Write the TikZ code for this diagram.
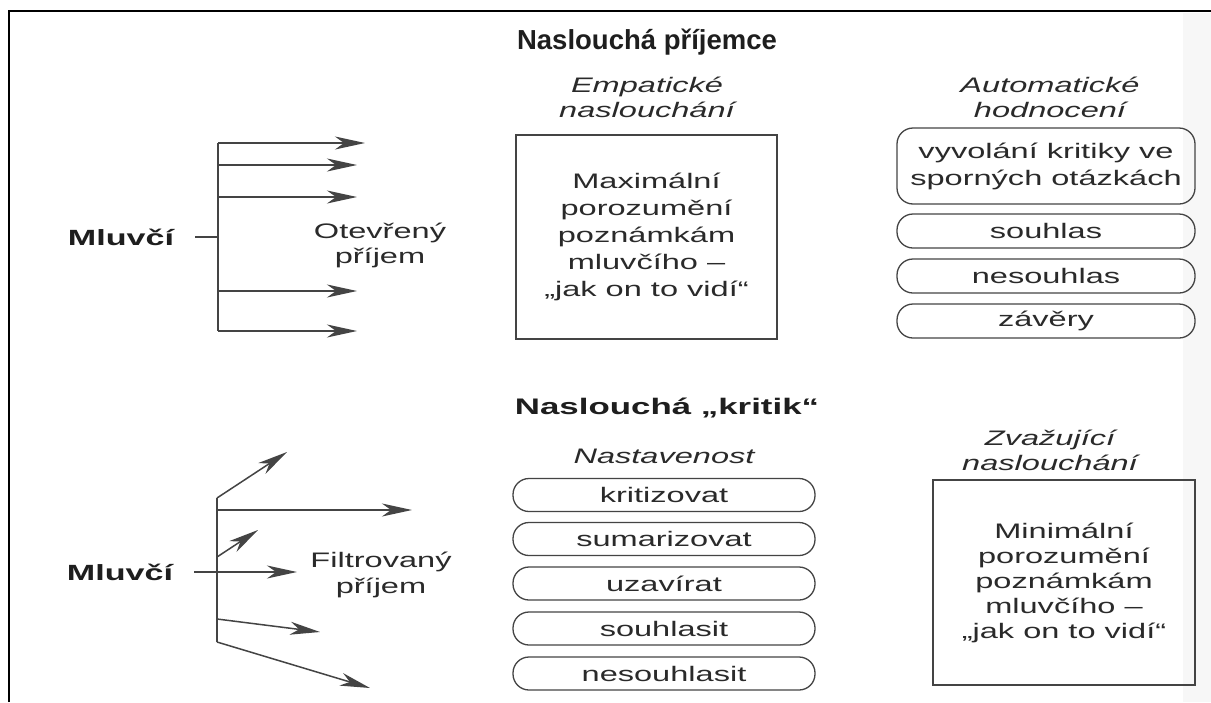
\documentclass[tikz,border=0pt]{standalone}
\usepackage{fontspec}
\setmainfont{Liberation Sans}[FakeStretch=1.55]
\newfontfamily\plainsans{Liberation Sans}
\usetikzlibrary{arrows.meta}
\definecolor{ink}{HTML}{2A2A2A}
\definecolor{inkb}{HTML}{1E1E1E}
\definecolor{lnc}{HTML}{444444}
\begin{document}
\begin{tikzpicture}[x=1pt,y=-1pt,
  txt/.style={text=ink, align=center, inner sep=0pt, font=\fontsize{21}{27}\selectfont},
  txtb/.style={text=ink, align=center, inner sep=0pt, font=\fontsize{21}{25}\selectfont},
  ital/.style={text=ink, align=center, inner sep=0pt, font=\fontsize{21}{25}\selectfont\itshape},
  bold/.style={text=inkb, align=center, inner sep=0pt, font=\fontsize{22}{26}\selectfont\bfseries},
  pill/.style={draw=lnc, line width=1.3pt, rounded corners=16pt, minimum width=302pt, minimum height=33pt, inner sep=0pt, txt},
  pillr/.style={pill, minimum width=298pt, minimum height=34pt},
  sqbox/.style={draw=lnc, line width=1.3pt, inner sep=0pt},
  ln/.style={draw=lnc, line width=1.5pt},
  arr/.style={ln, -{Stealth[length=30pt,width=13pt,inset=9pt]}}
]
\useasboundingbox (0,0) rectangle (1211,702);
\fill[white] (0,0) rectangle (1211,702);
\fill[black!3] (1183,13) rectangle (1211,702);
% frame
\draw[line width=2.2pt, black] (9,702) -- (9,11) -- (1211,11);

% ---------- top section ----------
\node[bold, font=\plainsans\fontsize{27.5}{30}\selectfont\bfseries] (t1) at (647,42) {Naslouchá příjemce};
\node[ital] (emp) at (647,97) {Empatické\\naslouchání};
\node[ital] (aut) at (1050,97) {Automatické\\hodnocení};

\node[sqbox, txt, minimum width=261pt, minimum height=204pt] (ebox) at (646.5,237)
  {Maximální\\porozumění\\poznámkám\\mluvčího –\\„jak on to vidí“};

\node[pillr, minimum height=76pt, rounded corners=16pt] (r1) at (1046,166) {vyvolání kritiky ve\\sporných otázkách};
\node[pillr] (r2) at (1046,231) {souhlas};
\node[pillr] (r3) at (1046,276) {nesouhlas};
\node[pillr] (r4) at (1046,321) {závěry};

\node[bold] (m1) at (121,237) {Mluvčí};
\node[txt, font=\fontsize{21}{25}\selectfont] (ot) at (380,245) {Otevřený\\příjem};
\coordinate (j1) at (218,237);
\coordinate (v1) at (218,143);
\coordinate (v2) at (218,165);
\coordinate (v3) at (218,197);
\coordinate (v4) at (218,291);
\coordinate (v5) at (218,331);
\coordinate (e1) at (365,143);
\coordinate (e2) at (357,165);
\coordinate (e3) at (357,197);
\coordinate (e4) at (357,291);
\coordinate (e5) at (357,331);
\draw[ln] ([xshift=21pt]m1.east) -- (j1);
\draw[ln] (v1) -- (v5);
\draw[arr] (v1) -- (e1);
\draw[arr] (v2) -- (e2);
\draw[arr] (v3) -- (e3);
\draw[arr] (v4) -- (e4);
\draw[arr] (v5) -- (e5);

% ---------- bottom section ----------
\node[bold, font=\fontsize{22.5}{26}\selectfont\bfseries] (t2) at (667,408) {Naslouchá „kritik“};
\node[ital] (nas) at (664,456) {Nastavenost};
\node[ital] (zva) at (1050,450) {Zvažující\\naslouchání};

\node[pill] (b1) at (664,495) {kritizovat};
\node[pill] (b2) at (664,539) {sumarizovat};
\node[pill] (b3) at (664,583.5) {uzavírat};
\node[pill] (b4) at (664,628.5) {souhlasit};
\node[pill] (b5) at (664,673.5) {nesouhlasit};

\node[sqbox, txtb, minimum width=262pt, minimum height=205pt] (zbox) at (1064,582.5)
  {Minimální\\porozumění\\poznámkám\\mluvčího –\\„jak on to vidí“};

\node[bold] (m2) at (120,572) {Mluvčí};
\node[txt, font=\fontsize{21}{26}\selectfont] (fi) at (381,575) {Filtrovaný\\příjem};
\coordinate (w1) at (217,498);
\coordinate (w2) at (217,510);
\coordinate (w3) at (217,557);
\coordinate (w4) at (217,619);
\coordinate (w5) at (217,642);
\coordinate (f1) at (287,452);
\coordinate (f2) at (412,510);
\coordinate (f3) at (258,530);
\coordinate (f4) at (320,632);
\coordinate (f5) at (370,688);
\coordinate (f0) at (297,572);
\draw[ln] (w1) -- (w5);
\draw[arr] (w1) -- (f1);
\draw[arr] (w2) -- (f2);
\draw[arr] (w3) -- (f3);
\draw[arr] (w4) -- (f4);
\draw[arr] (w5) -- (f5);
\draw[arr] ([xshift=21pt]m2.east) -- (f0);
\end{tikzpicture}
\end{document}
